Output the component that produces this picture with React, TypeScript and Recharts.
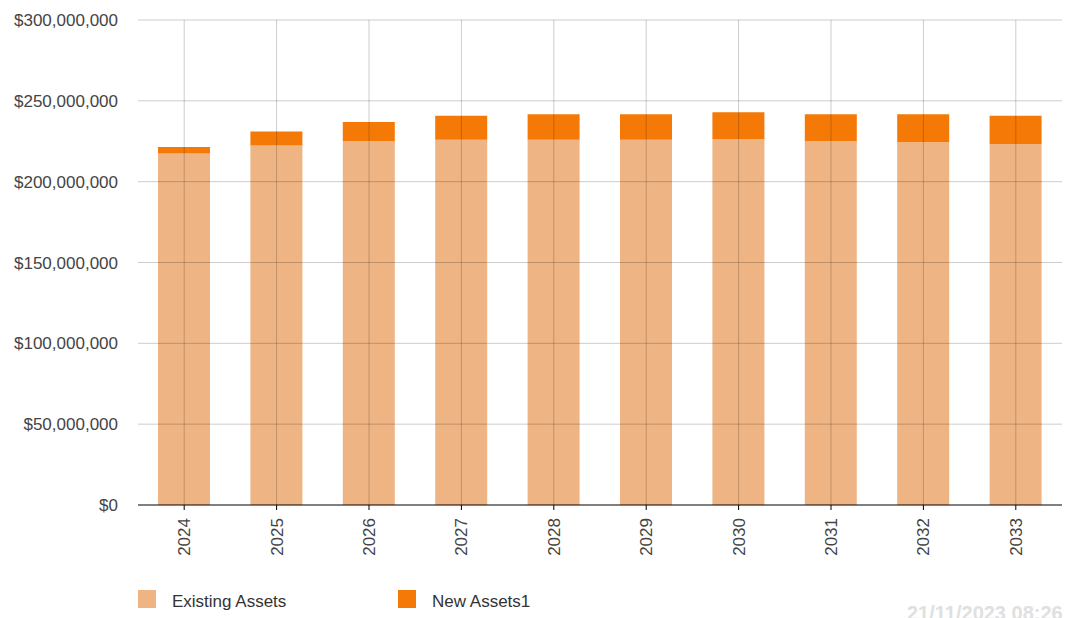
import React from 'react';
import { BarChart, Bar, XAxis, YAxis, ReferenceLine } from 'recharts';

const years = ['2024', '2025', '2026', '2027', '2028', '2029', '2030', '2031', '2032', '2033'];
const existingAssets = [217.4e6, 222.3e6, 225.2e6, 226.0e6, 226.0e6, 226.0e6, 226.2e6, 225.0e6, 224.4e6, 223.3e6];
const newAssets = [4.0e6, 8.7e6, 11.7e6, 14.8e6, 15.7e6, 15.7e6, 16.7e6, 16.7e6, 17.3e6, 17.5e6];
const yTicks = [0, 50e6, 100e6, 150e6, 200e6, 250e6, 300e6];

const EXISTING_COLOR = '#EFB483';
const NEW_COLOR = '#F57906';
const GRID = { stroke: '#000', strokeOpacity: 0.2 };
const FONT = '"Liberation Sans", Arial, sans-serif';

const data = years.map((year, i) => ({
  year,
  existing: existingAssets[i],
  added: newAssets[i],
}));

const formatMoney = (v: number) => '$' + v.toLocaleString('en-US');

const YearTick = (props: any) => {
  const { x, y, payload } = props;
  return (
    <text
      x={x}
      y={y}
      transform={`rotate(-90, ${x}, ${y})`}
      textAnchor="end"
      dy="0.35em"
      fontSize={17}
      fontFamily={FONT}
      fill="#444"
    >
      {payload.value}
    </text>
  );
};

const LegendItem = ({ color, label, left }: { color: string; label: string; left: number }) => (
  <div style={{ position: 'absolute', left, top: 590, height: 18, display: 'flex', alignItems: 'center' }}>
    <div style={{ width: 18, height: 18, background: color }} />
    <span style={{ marginLeft: 16, fontSize: 17, color: '#333', fontFamily: FONT, position: 'relative', top: 3 }}>
      {label}
    </span>
  </div>
);

const App: React.FC = () => {
  return (
    <div style={{ position: 'absolute', left: 0, top: 0, width: 1065, height: 618, background: '#fff', overflow: 'hidden' }}>
      <BarChart
        width={1065}
        height={618}
        data={data}
        margin={{ top: 20, right: 3, bottom: 0, left: 0 }}
        barCategoryGap={20}
      >
        <XAxis
          dataKey="year"
          height={113}
          axisLine={{ stroke: '#000' }}
          tickLine={{ stroke: '#000' }}
          tickSize={5}
          tickMargin={8}
          tick={<YearTick />}
          interval={0}
        />
        <YAxis
          width={138}
          domain={[0, 300e6]}
          ticks={yTicks}
          tickFormatter={formatMoney}
          axisLine={false}
          tickLine={false}
          tickSize={6}
          tickMargin={14}
          tick={{ fontSize: 17, fill: '#444', fontFamily: FONT }}
        />
        <Bar dataKey="existing" stackId="a" fill={EXISTING_COLOR} isAnimationActive={false} />
        <Bar dataKey="added" stackId="a" fill={NEW_COLOR} isAnimationActive={false} />
        {/* gridlines drawn over the bars */}
        {yTicks.filter((t) => t > 0).map((t) => (
          <ReferenceLine key={'h' + t} y={t} {...GRID} />
        ))}
        {years.map((yr) => (
          <ReferenceLine key={'v' + yr} x={yr} {...GRID} />
        ))}
      </BarChart>
      <LegendItem color={EXISTING_COLOR} label="Existing Assets" left={138} />
      <LegendItem color={NEW_COLOR} label="New Assets1" left={398} />
      <div
        style={{
          position: 'absolute',
          left: 907,
          top: 602,
          fontSize: 20,
          fontWeight: 'bold',
          color: '#e0e0e0',
          fontFamily: FONT,
          whiteSpace: 'nowrap',
        }}
      >
        21/11/2023 08:26
      </div>
    </div>
  );
};

export default App;
